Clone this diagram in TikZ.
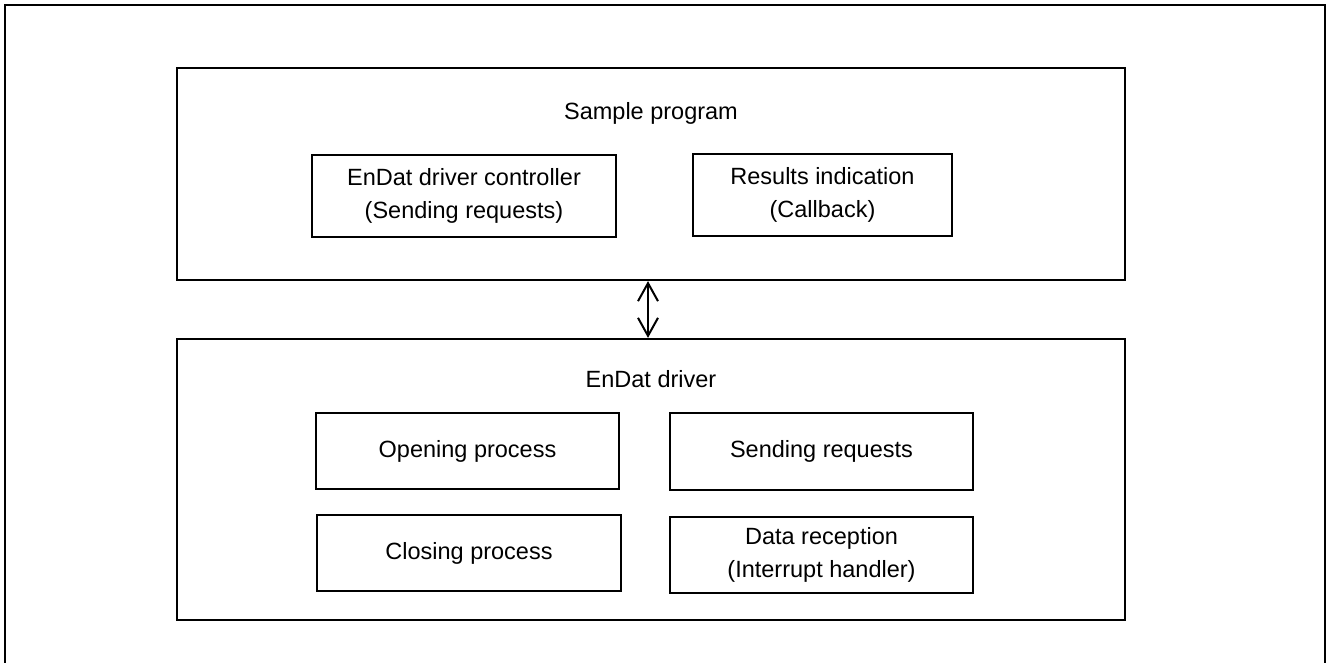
\documentclass[tikz,border=0pt]{standalone}
\usepackage{fontspec}
\setmainfont{Liberation Sans}
\usetikzlibrary{arrows.meta}
\tikzset{blk/.style = {draw, line width=2.2, inner sep=0, align=center,
                       font=\fontsize{23.5}{33.5}\selectfont}}
\tikzset{grp/.style = {draw, line width=2.2, inner sep=0}}
\tikzset{ttl/.style = {anchor=base, inner sep=0, font=\fontsize{23.5}{33.5}\selectfont}}

\begin{document}
\begin{tikzpicture}[x=1pt, y=-1pt]
      \useasboundingbox (0, 0) rectangle (1326, 663);
      \draw [line width=2] (5, 680) -- (5, 5) -- (1325, 5) -- (1325, 680);
      % upper group
      \node [grp, minimum width=948, minimum height=212] (sample) at (651, 174) {};
      \node [ttl] (sampletitle) at (651, 120) {Sample program};
      \node [blk, minimum width=304, minimum height=82] (ctrl) at (464, 196) {EnDat driver controller\\(Sending requests)};
      \node [blk, minimum width=259, minimum height=82] (result) at (822.5, 195) {Results indication\\(Callback)};
      % lower group
      \node [grp, minimum width=948, minimum height=281] (driver) at (651, 479.5) {};
      \node [ttl] (drivertitle) at (651, 387) {EnDat driver};
      \node [blk, minimum width=303, minimum height=76] (open) at (467.5, 451) {Opening process};
      \node [blk, minimum width=303, minimum height=77] (send) at (821.5, 451.5) {Sending requests};
      \node [blk, minimum width=304, minimum height=76] (close) at (469, 553) {Closing process};
      \node [blk, minimum width=303, minimum height=76] (recv) at (821.5, 555) {Data reception\\(Interrupt handler)};
      \draw [{Straight Barb[length=18, width=20]}-{Straight Barb[length=18, width=20]}, line width=2]
            ([xshift=-3]sample.south) -- ([xshift=-3]driver.north);
    \end{tikzpicture}
\end{document}
